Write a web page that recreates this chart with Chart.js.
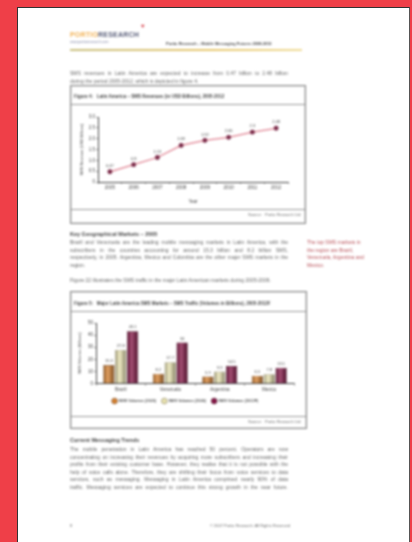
<!DOCTYPE html>
<html><head><meta charset="utf-8">
<script src="https://cdn.jsdelivr.net/npm/chart.js@4/dist/chart.umd.min.js"></script>
<style>
html,body{margin:0;padding:0;}
body{width:412px;height:542px;background:#ef3f48;position:relative;overflow:hidden;font-family:"Liberation Sans",Arial,sans-serif;}
#page{position:absolute;left:17px;top:7px;width:391px;height:545px;background:#fff;border-left:1px solid #333;border-top:1px solid #333;border-right:1px solid #555;}
#inner{position:absolute;left:0;top:0;width:391px;height:545px;filter:blur(0.85px);}
.t{position:absolute;white-space:nowrap;color:#666;font-size:5px;line-height:6px;}
.j{text-align:justify;text-align-last:justify;white-space:normal;}
.b{font-weight:bold;color:#444;}
.box{position:absolute;border:1px solid #888;box-shadow:0 0 0 1px #ddd inset;}
.hl{position:absolute;height:1px;background:#999;}
canvas{display:block;}
</style></head><body>
<div id="page"><div id="inner">
  <!-- header -->
  <div class="t b" style="left:52px;top:23px;font-size:7px;line-height:8px;letter-spacing:0.2px;"><span style="color:#f2b050;font-weight:bold">PORTIO</span><span style="color:#5a5f7a">RESEARCH</span></div>
  <div class="t" style="left:123px;top:15px;font-size:6px;color:#d8404a;font-weight:bold">&#x2665;</div>
  <div class="t" style="left:52px;top:31px;font-size:3.5px;color:#7a7fa0">www.portioresearch.com</div>
  <div class="t b" style="left:148px;top:33px;font-size:4px;color:#444">Portio Research – Mobile Messaging Futures 2008-2012</div>
  <div style="position:absolute;left:52px;top:41px;width:232px;height:2px;background:linear-gradient(90deg,#c9c080,#e8c870 60%,#f0dc98);"></div>

  <div class="t j" style="left:52px;top:62px;width:218px">SMS revenues in Latin America are expected to increase from 0.47 billion to 2.48 billion</div>
  <div class="t" style="left:52px;top:70px;">during the period 2005-2012, which is depicted in figure 4.</div>

  <!-- figure 1 -->
  <div class="box" style="left:52px;top:77px;width:234px;height:137px;"></div>
  <div class="t b" style="left:56px;top:86px;font-size:4.5px">Figure 4:&nbsp;&nbsp; Latin America – SMS Revenues (in USD Billions), 2005-2012</div>
  <div class="hl" style="left:53px;top:96px;width:234px;"></div>
  <div style="position:absolute;left:53px;top:98px;width:233px;height:103px;"><canvas id="c1"></canvas></div>
  <div class="hl" style="left:53px;top:201px;width:234px;"></div>
  <div class="t" style="left:230px;top:204px;font-size:4px">Source:&nbsp;&nbsp; Portio Research Ltd</div>

  <div class="t b" style="left:52px;top:223px;font-size:5.5px">Key Geographical Markets – 2005</div>
  <div class="t j" style="left:52px;top:231px;width:218px">Brazil and Venezuela are the leading mobile messaging markets in Latin America, with the</div>
  <div class="t j" style="left:52px;top:238.5px;width:218px">subscribers in the countries accounting for around 15.3 billion and 8.2 billion SMS,</div>
  <div class="t j" style="left:52px;top:246px;width:218px">respectively, in 2005. Argentina, Mexico and Colombia are the other major SMS markets in the</div>
  <div class="t" style="left:52px;top:253.5px;">region.</div>
  <div class="t" style="left:289px;top:231px;color:#b85058">The top SMS markets in</div>
  <div class="t" style="left:289px;top:238.5px;color:#b85058">the region are Brazil,</div>
  <div class="t" style="left:289px;top:246px;color:#b85058">Venezuela, Argentina and</div>
  <div class="t" style="left:289px;top:253.5px;color:#b85058">Mexico.</div>

  <div class="t" style="left:52px;top:269px;">Figure 22 illustrates the SMS traffic in the major Latin American markets during 2005-2006.</div>

  <!-- figure 2 -->
  <div class="box" style="left:52px;top:283px;width:235px;height:136px;"></div>
  <div class="t b" style="left:56px;top:293px;font-size:4.5px">Figure 5:&nbsp;&nbsp; Major Latin America SMS Markets – SMS Traffic (Volumes in Billions), 2005-2012F</div>
  <div class="hl" style="left:53px;top:303px;width:235px;"></div>
  <div style="position:absolute;left:53px;top:305px;width:234px;height:102px;"><canvas id="c2"></canvas></div>
  <div class="hl" style="left:53px;top:408px;width:235px;"></div>
  <div class="t" style="left:230px;top:411px;font-size:4px">Source:&nbsp;&nbsp; Portio Research Ltd</div>

  <div class="t b" style="left:52px;top:429px;font-size:5.5px">Current Messaging Trends</div>
  <div class="t j" style="left:52px;top:438px;width:218px">The mobile penetration in Latin America has reached 50 percent. Operators are now</div>
  <div class="t j" style="left:52px;top:445.5px;width:218px">concentrating on increasing their revenues by acquiring more subscribers and increasing their</div>
  <div class="t j" style="left:52px;top:453px;width:218px">profits from their existing customer base. However, they realise that it is not possible with the</div>
  <div class="t j" style="left:52px;top:460.5px;width:218px">help of voice calls alone. Therefore, they are shifting their focus from voice services to data</div>
  <div class="t j" style="left:52px;top:468px;width:218px">services, such as messaging. Messaging in Latin America comprised nearly 90% of data</div>
  <div class="t j" style="left:52px;top:475.5px;width:218px">traffic. Messaging services are expected to continue this strong growth in the near future.</div>

  <div class="t" style="left:52px;top:515px;font-size:4px">8</div>
  <div class="t" style="left:192px;top:515px;font-size:4px">© 2007 Portio Research. All Rights Reserved</div>
</div></div>
<script>
// ---- data ----
const years = ['2005','2006','2007','2008','2009','2010','2011','2012'];
const smsRevenue = [0.47, 0.80, 1.13, 1.69, 1.92, 2.06, 2.30, 2.48];
const revenueTicksMax = 3;
const revenueTickStep = 0.5;

const markets = ['Brazil','Venezuela','Argentina','Mexico'];
const volumes2005 = [15.3, 8.2, 5.9, 6.5];
const volumes2006 = [27.8, 17.7, 9.9, 7.8];
const volumes2012 = [43.1, 34.0, 14.5, 13.1];
const seriesNames = ['SMS Volumes (2005)','SMS Volumes (2006)','SMS Volumes (2012F)'];
const volumeTicksMax = 50;
const volumeTickStep = 10;

const FONT = '"Liberation Sans", Arial, sans-serif';
Chart.defaults.font.family = FONT;
Chart.defaults.color = '#444';

const valueLabels = {
  id:'valueLabels',
  afterDatasetsDraw(chart, args, opts){
    const ctx = chart.ctx;
    ctx.save();
    ctx.font = (opts.size||4) + 'px ' + FONT;
    ctx.fillStyle = opts.color || '#333';
    ctx.textAlign = 'center';
    ctx.textBaseline = 'bottom';
    chart.data.datasets.forEach((ds, di) => {
      const meta = chart.getDatasetMeta(di);
      if (meta.hidden) return;
      meta.data.forEach((el, i) => {
        ctx.fillText(String(ds.data[i]), el.x, el.y - (opts.offset||3));
      });
    });
    ctx.restore();
  }
};

const tickGrid = {display:true, drawOnChartArea:false, drawTicks:true, tickLength:2, color:'#555', lineWidth:0.6};

new Chart(document.getElementById('c1'), {
  type:'line',
  data:{labels:years, datasets:[{data:smsRevenue, borderColor:'#e08090', borderWidth:1.3, tension:0,
    pointRadius:1.8, pointBackgroundColor:'#7a2a48', pointBorderColor:'#7a2a48'}]},
  options:{
    responsive:true, maintainAspectRatio:false, animation:false, devicePixelRatio:1,
    layout:{padding:{left:8,right:16,top:11,bottom:5}},
    plugins:{legend:{display:false}, tooltip:{enabled:false}, valueLabels:{size:4, offset:4, color:'#444'}},
    scales:{
      x:{offset:true, grid:Object.assign({}, tickGrid, {offset:true}), border:{color:'#444'},
         ticks:{font:{size:4.5}, maxRotation:0, padding:1, color:'#444'},
         title:{display:true, text:'Year', font:{size:4.5}, padding:{top:2,bottom:0}, color:'#444'},
         afterFit(s){ s.height = 22; }},
      y:{min:0, max:revenueTicksMax, grid:tickGrid, border:{color:'#444'},
         ticks:{stepSize:revenueTickStep, font:{size:4.5}, padding:1, color:'#444'},
         title:{display:true, text:'SMS Revenue (USD Billions)', font:{size:4}, padding:0, color:'#444'},
         afterFit(s){ s.width = 19; }}
    }
  },
  plugins:[valueLabels]
});

const barBase = [[216,130,48],[236,230,178],[134,21,70]];
function shade(c, f){ return 'rgb(' + c.map(v => Math.max(0, Math.min(255, Math.round(f >= 0 ? v + (255 - v) * f : v * (1 + f))))).join(',') + ')'; }
function barFill(idx){
  return function(context){
    const el = context.element;
    const base = barBase[idx];
    if (!el || !isFinite(el.x) || !el.width) return shade(base, 0);
    const g = context.chart.ctx.createLinearGradient(el.x - el.width/2, 0, el.x + el.width/2, 0);
    g.addColorStop(0, shade(base, -0.35));
    g.addColorStop(0.4, shade(base, 0.25));
    g.addColorStop(1, shade(base, -0.45));
    return g;
  };
}
const bar = new Chart(document.getElementById('c2'), {
  type:'bar',
  data:{labels:markets, datasets:[
    {label:seriesNames[0], data:volumes2005, backgroundColor:barFill(0), borderColor:'#6a4020', borderWidth:0.6},
    {label:seriesNames[1], data:volumes2006, backgroundColor:barFill(1), borderColor:'#7a7050', borderWidth:0.6},
    {label:seriesNames[2], data:volumes2012, backgroundColor:barFill(2), borderColor:'#40081e', borderWidth:0.6}
  ]},
  options:{
    responsive:true, maintainAspectRatio:false, animation:false, devicePixelRatio:1,
    layout:{padding:{left:6,right:11,top:10,bottom:2}},
    datasets:{bar:{categoryPercentage:0.72, barPercentage:0.95}},
    plugins:{
      legend:{position:'bottom', labels:{boxWidth:5, boxHeight:5, font:{size:4}, padding:6, color:'#444', usePointStyle:true, pointStyle:'circle',
        generateLabels(chart){
          return chart.data.datasets.map((ds, i) => ({text:ds.label, fillStyle:shade(barBase[i],0), strokeStyle:ds.borderColor, lineWidth:0.6, pointStyle:'circle', datasetIndex:i, hidden:false}));
        }}},
      tooltip:{enabled:false}, valueLabels:{size:4, offset:2, color:'#444'}
    },
    scales:{
      x:{grid:tickGrid, border:{color:'#444'},
         ticks:{font:{size:4.5}, maxRotation:0, padding:1, color:'#444'}},
      y:{min:0, max:volumeTicksMax, grid:tickGrid, border:{color:'#444'},
         ticks:{stepSize:volumeTickStep, font:{size:4.5}, padding:1, color:'#444'},
         title:{display:true, text:'SMS Volumes (Billions)', font:{size:4}, padding:0, color:'#444'},
         afterFit(s){ s.width = 19; }}
    }
  },
  plugins:[valueLabels]
});
bar.update('none');
</script>
</body></html>
